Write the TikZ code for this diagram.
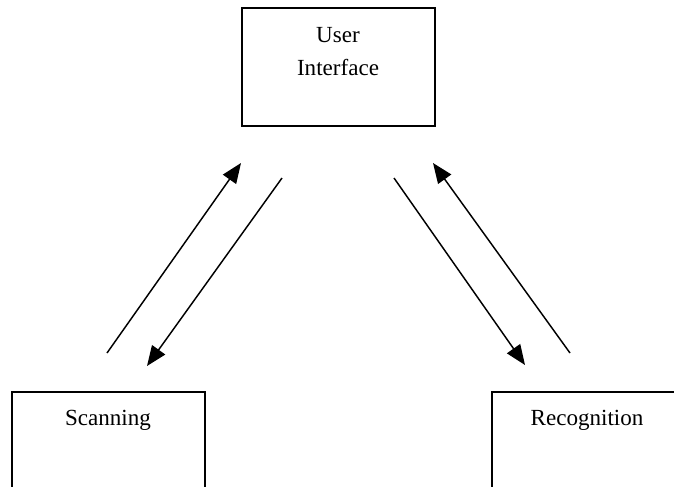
\documentclass[tikz,border=0pt]{standalone}
\usepackage{fontspec}
\setmainfont{Liberation Serif}
\usetikzlibrary{arrows.meta}

\tikzset{%
  % Specifications for style of nodes:
         block/.style   = {rectangle, draw = black, line width=1.3pt, minimum width=145pt, minimum height=88.5pt, inner sep=0pt, anchor=north west},
         boxtext/.style = {inner sep=0pt, align=center, font=\fontsize{17.3}{24.75}\selectfont},
         flow/.style    = {-{Triangle[length=15pt, width=12pt]}, line width=1.1pt},
}

\begin{document}
\begin{tikzpicture}[x=0.75pt, y=-0.75pt]
    \clip (0,0) rectangle (674,486);

    % Draw nodes
    \node (ui)    [block] at (241,7)   {};
    \node (scan)  [block] at (11,391)  {};
    \node (recog) [block] at (491,391) {};

    \node (uitext)    [boxtext, anchor=north] at (338,26.7) {User\\Interface};
    \node (scantext)  [boxtext, anchor=base]  at (108,425)  {Scanning};
    \node (recogtext) [boxtext, anchor=base]  at (587,425)  {Recognition};

    % Free ends of the arrows
    \coordinate (scanout)  at (107,353);
    \coordinate (uiin1)    at (241,163);
    \coordinate (uiout1)   at (282,178);
    \coordinate (scanin)   at (147,366);
    \coordinate (uiout2)   at (394,178);
    \coordinate (recogin)  at (525,365);
    \coordinate (recogout) at (570,353);
    \coordinate (uiin2)    at (433,163);

    % Draw arrows
    \draw[flow]  (scanout)  -- (uiin1);
    \draw[flow]  (uiout1)   -- (scanin);
    \draw[flow]  (uiout2)   -- (recogin);
    \draw[flow]  (recogout) -- (uiin2);

\end{tikzpicture}
\end{document}
